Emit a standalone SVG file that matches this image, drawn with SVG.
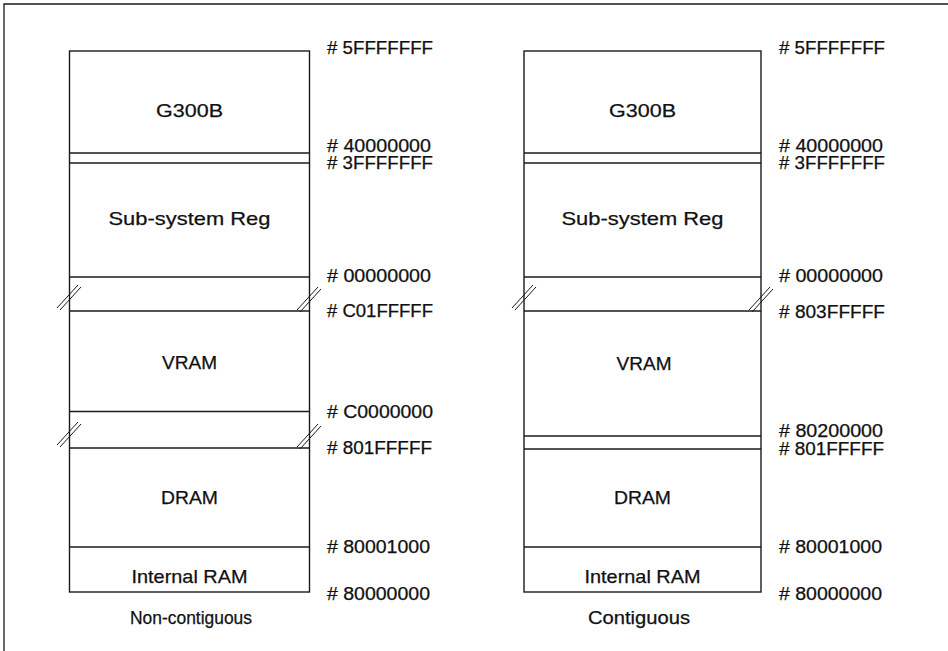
<svg xmlns="http://www.w3.org/2000/svg" width="948" height="651" viewBox="0 0 948 651">
<style>
.ln{stroke:#1a1a1a;stroke-width:1.3;fill:none}
.bx{stroke:#1a1a1a;stroke-width:1.4;fill:#fff}
.brk{stroke:#1a1a1a;stroke-width:1;fill:none}
.lbl{font-family:"Liberation Sans",Arial,sans-serif;font-size:18.5px;fill:#111;stroke:#111;stroke-width:0.25;text-anchor:middle}
.adr{font-family:"Liberation Sans",Arial,sans-serif;font-size:17.5px;fill:#111;stroke:#111;stroke-width:0.25}
</style>
<rect width="948" height="651" fill="#fff"/>
<path class="ln" d="M4,651 V4 H948"/>

<g id="left-map">
  <rect class="bx" x="69.5" y="51" width="240" height="541"/>
  <g class="ln">
    <line x1="69.5" y1="153" x2="309.5" y2="153"/>
    <line x1="69.5" y1="163" x2="309.5" y2="163"/>
    <line x1="69.5" y1="277" x2="309.5" y2="277"/>
    <line x1="69.5" y1="311" x2="309.5" y2="311"/>
    <line x1="69.5" y1="411.5" x2="309.5" y2="411.5"/>
    <line x1="69.5" y1="448" x2="309.5" y2="448"/>
    <line x1="69.5" y1="547" x2="309.5" y2="547"/>
  </g>
  <g class="brk">
    <line x1="57" y1="308" x2="78" y2="285"/><line x1="60" y1="310" x2="81" y2="287"/>
    <line x1="297" y1="310" x2="318" y2="287"/><line x1="300" y1="312" x2="321" y2="289"/>
    <line x1="57" y1="445" x2="78" y2="422"/><line x1="60" y1="447" x2="81" y2="424"/>
    <line x1="297" y1="447" x2="318" y2="424"/><line x1="300" y1="449" x2="321" y2="426"/>
  </g>
  <text class="lbl" x="189.5" y="117" textLength="67" lengthAdjust="spacingAndGlyphs">G300B</text>
  <text class="lbl" x="189.5" y="225" textLength="162" lengthAdjust="spacingAndGlyphs">Sub-system Reg</text>
  <text class="lbl" x="189.5" y="369" textLength="55" lengthAdjust="spacingAndGlyphs">VRAM</text>
  <text class="lbl" x="189.5" y="504" textLength="57" lengthAdjust="spacingAndGlyphs">DRAM</text>
  <text class="lbl" x="189.5" y="583" textLength="116" lengthAdjust="spacingAndGlyphs">Internal RAM</text>
  <text class="lbl" x="191" y="624" textLength="122" lengthAdjust="spacingAndGlyphs">Non-contiguous</text>
</g>

<g id="left-addresses">
  <text class="adr" x="327" y="54" textLength="106" lengthAdjust="spacingAndGlyphs">#&#160;5FFFFFFF</text>
  <text class="adr" x="327" y="152" textLength="104" lengthAdjust="spacingAndGlyphs">#&#160;40000000</text>
  <text class="adr" x="327" y="169" textLength="106" lengthAdjust="spacingAndGlyphs">#&#160;3FFFFFFF</text>
  <text class="adr" x="327" y="282" textLength="104" lengthAdjust="spacingAndGlyphs">#&#160;00000000</text>
  <text class="adr" x="327" y="317" textLength="106" lengthAdjust="spacingAndGlyphs">#&#160;C01FFFFF</text>
  <text class="adr" x="327" y="418" textLength="106" lengthAdjust="spacingAndGlyphs">#&#160;C0000000</text>
  <text class="adr" x="327" y="454" textLength="105" lengthAdjust="spacingAndGlyphs">#&#160;801FFFFF</text>
  <text class="adr" x="327" y="553" textLength="103" lengthAdjust="spacingAndGlyphs">#&#160;80001000</text>
  <text class="adr" x="327" y="600" textLength="103" lengthAdjust="spacingAndGlyphs">#&#160;80000000</text>
</g>

<g id="right-map">
  <rect class="bx" x="524" y="51" width="237" height="541"/>
  <g class="ln">
    <line x1="524" y1="153" x2="761" y2="153"/>
    <line x1="524" y1="163" x2="761" y2="163"/>
    <line x1="524" y1="277" x2="761" y2="277"/>
    <line x1="524" y1="311" x2="761" y2="311"/>
    <line x1="524" y1="436" x2="761" y2="436"/>
    <line x1="524" y1="449" x2="761" y2="449"/>
    <line x1="524" y1="547" x2="761" y2="547"/>
  </g>
  <g class="brk">
    <line x1="512" y1="308" x2="533" y2="285"/><line x1="515" y1="310" x2="536" y2="287"/>
    <line x1="749" y1="310" x2="770" y2="287"/><line x1="752" y1="312" x2="773" y2="289"/>
  </g>
  <text class="lbl" x="642.5" y="117" textLength="67" lengthAdjust="spacingAndGlyphs">G300B</text>
  <text class="lbl" x="642.5" y="225" textLength="162" lengthAdjust="spacingAndGlyphs">Sub-system Reg</text>
  <text class="lbl" x="644" y="370" textLength="55" lengthAdjust="spacingAndGlyphs">VRAM</text>
  <text class="lbl" x="642.5" y="504" textLength="57" lengthAdjust="spacingAndGlyphs">DRAM</text>
  <text class="lbl" x="642.5" y="583" textLength="116" lengthAdjust="spacingAndGlyphs">Internal RAM</text>
  <text class="lbl" x="639" y="624" textLength="102" lengthAdjust="spacingAndGlyphs">Contiguous</text>
</g>

<g id="right-addresses">
  <text class="adr" x="779" y="54" textLength="106" lengthAdjust="spacingAndGlyphs">#&#160;5FFFFFFF</text>
  <text class="adr" x="779" y="152" textLength="104" lengthAdjust="spacingAndGlyphs">#&#160;40000000</text>
  <text class="adr" x="779" y="169" textLength="106" lengthAdjust="spacingAndGlyphs">#&#160;3FFFFFFF</text>
  <text class="adr" x="779" y="282" textLength="104" lengthAdjust="spacingAndGlyphs">#&#160;00000000</text>
  <text class="adr" x="779" y="318" textLength="106" lengthAdjust="spacingAndGlyphs">#&#160;803FFFFF</text>
  <text class="adr" x="779" y="437" textLength="104" lengthAdjust="spacingAndGlyphs">#&#160;80200000</text>
  <text class="adr" x="779" y="455" textLength="105" lengthAdjust="spacingAndGlyphs">#&#160;801FFFFF</text>
  <text class="adr" x="779" y="553" textLength="103" lengthAdjust="spacingAndGlyphs">#&#160;80001000</text>
  <text class="adr" x="779" y="600" textLength="103" lengthAdjust="spacingAndGlyphs">#&#160;80000000</text>
</g>
</svg>
